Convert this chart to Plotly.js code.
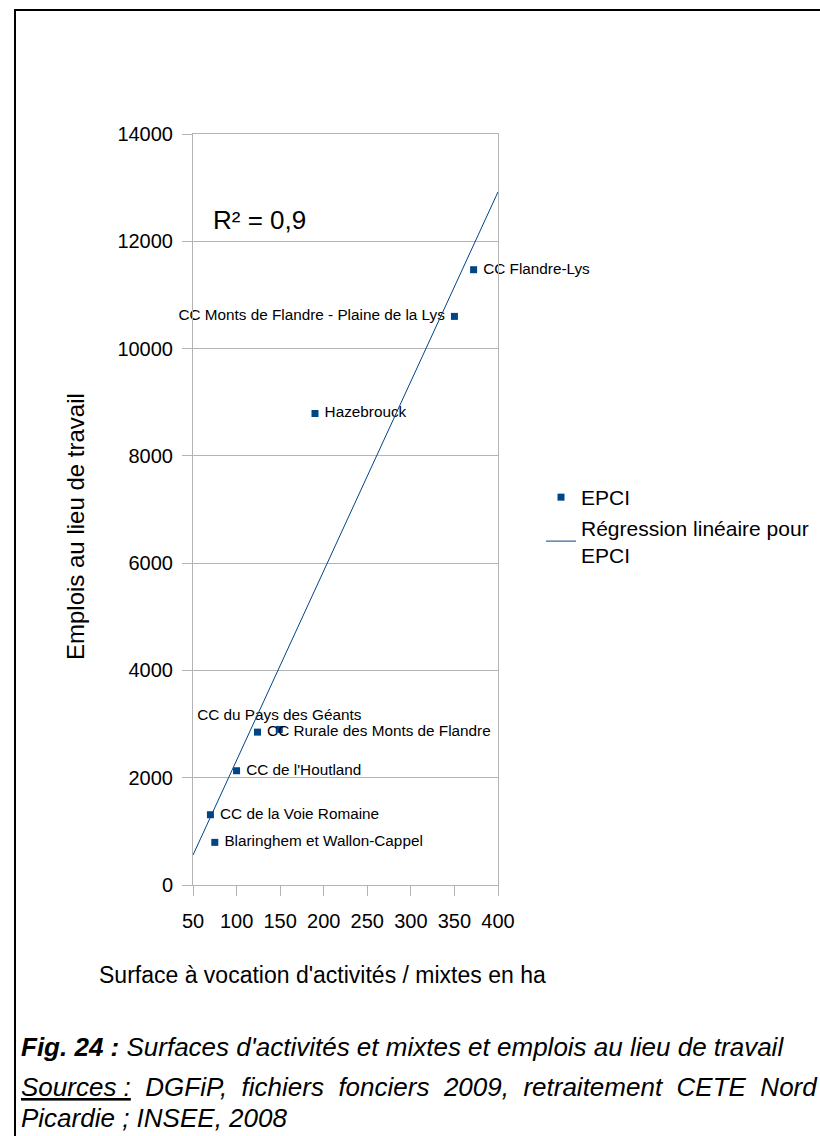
<!DOCTYPE html>
<html>
<head>
<meta charset="utf-8">
<script src="https://cdn.plot.ly/plotly-3.0.1.min.js"></script>
<style>
html,body{margin:0;padding:0;background:#fff;}
#chart{width:820px;height:1136px;}
</style>
</head>
<body>
<div id="chart"></div>
<script>
// ---- data ----
const names = ["CC Flandre-Lys", "CC Monts de Flandre - Plaine de la Lys", "Hazebrouck",
  "CC du Pays des Géants", "CC Rurale des Monts de Flandre", "CC de l'Houtland",
  "CC de la Voie Romaine", "Blaringhem et Wallon-Cappel"];
const surface = [372, 350, 190, 149, 124, 100, 70, 75];
const emplois = [11470, 10600, 8790, 2900, 2850, 2130, 1310, 795];
const labelPos = ["middle right", "middle left", "middle right", "top center",
  "middle right", "middle right", "middle right", "middle right"];
const labelTpl = [" %{text}", "%{text} ", " %{text}", "%{text}",
  " %{text}", " %{text}", " %{text}", " %{text}"];
const trendX = [50, 400];
const trendY = [558, 12920];
const xTicks = [50, 100, 150, 200, 250, 300, 350, 400];
const yTicks = [0, 2000, 4000, 6000, 8000, 10000, 12000, 14000];

// ---- pixel helpers (plot area 193..498 x, 134..885 y) ----
const L = 193, R = 498, T = 134, B = 885;
const PX = p => (p - L) / (R - L);
const PY = p => (B - p) / (B - T);

const blue = "#004586";
const grey = "#b3b3b3";
const font = "Liberation Sans, Arial, sans-serif";

const traces = [
  {
    type: "scatter", mode: "markers+text", name: "EPCI",
    x: surface, y: emplois, text: names, textposition: labelPos, texttemplate: labelTpl,
    marker: {symbol: "square", size: 7, color: blue},
    textfont: {family: font, size: 15.3, color: "#000"},
    cliponaxis: false, hoverinfo: "skip"
  },
  {
    type: "scatter", mode: "lines", name: "Régression linéaire pour<br>EPCI",
    x: trendX, y: trendY,
    line: {color: blue, width: 1}, hoverinfo: "skip"
  }
];

const layout = {
  width: 820, height: 1136,
  margin: {l: L, r: 820 - R, t: T, b: 1136 - B, pad: 0, autoexpand: false},
  paper_bgcolor: "#fff", plot_bgcolor: "#fff",
  font: {family: font, color: "#000"},
  xaxis: {
    range: [50, 400], tickvals: xTicks, ticktext: xTicks.map(String),
    showgrid: false, zeroline: false, showline: true, linecolor: grey, linewidth: 1, mirror: true,
    ticks: "outside", ticklen: 10, tickcolor: grey, ticklabelstandoff: 8,
    tickfont: {size: 20, family: font}, automargin: false
  },
  yaxis: {
    range: [0, 14000], tickvals: yTicks, ticktext: yTicks.map(String),
    showgrid: true, gridcolor: grey, zeroline: false, showline: true, linecolor: grey, linewidth: 1, mirror: true,
    ticks: "outside", ticklen: 10, tickcolor: grey, ticklabelstandoff: 5,
    tickfont: {size: 20, family: font}, automargin: false
  },
  showlegend: true,
  legend: {
    x: PX(541), y: PY(477), xanchor: "left", yanchor: "top",
    font: {size: 21, family: font}, bgcolor: "rgba(0,0,0,0)",
    tracegroupgap: 0, itemwidth: 30
  },
  annotations: [
    {xref: "paper", yref: "paper", x: PX(211), y: PY(220), xanchor: "left", yanchor: "middle",
      text: "R² = 0,9", showarrow: false, font: {size: 26, family: font}},
    {xref: "paper", yref: "paper", x: PX(322), y: PY(975), xanchor: "center", yanchor: "middle",
      text: "Surface à vocation d'activités / mixtes en ha", showarrow: false, font: {size: 23, family: font}},
    {xref: "paper", yref: "paper", x: PX(75), y: PY(527), xanchor: "center", yanchor: "middle", textangle: -90,
      text: "Emplois au lieu de travail", showarrow: false, font: {size: 24, family: font}},
    {xref: "paper", yref: "paper", x: PX(19), y: PY(1047), xanchor: "left", yanchor: "middle",
      text: "<b><i>Fig. 24 :</i></b><i> Surfaces d'activités et mixtes et emplois au lieu de travail</i>",
      showarrow: false, font: {size: 26, family: font}},
    {xref: "paper", yref: "paper", x: PX(19), y: PY(1087), xanchor: "left", yanchor: "middle",
      text: "<i><u>Sources :</u>  DGFiP,  fichiers  fonciers  2009,  retraitement  CETE  Nord</i>",
      showarrow: false, font: {size: 26, family: font}},
    {xref: "paper", yref: "paper", x: PX(19), y: PY(1118), xanchor: "left", yanchor: "middle",
      text: "<i>Picardie ; INSEE, 2008</i>",
      showarrow: false, font: {size: 26, family: font}}
  ],
  shapes: [
    {type: "line", xref: "paper", yref: "paper", x0: PX(15), x1: PX(830), y0: PY(10), y1: PY(10),
      line: {color: "#000", width: 2}},
    {type: "line", xref: "paper", yref: "paper", x0: PX(15), x1: PX(15), y0: PY(9), y1: PY(1140),
      line: {color: "#000", width: 2}}
  ]
};

Plotly.newPlot("chart", traces, layout, {staticPlot: true, displayModeBar: false});
</script>
</body>
</html>
